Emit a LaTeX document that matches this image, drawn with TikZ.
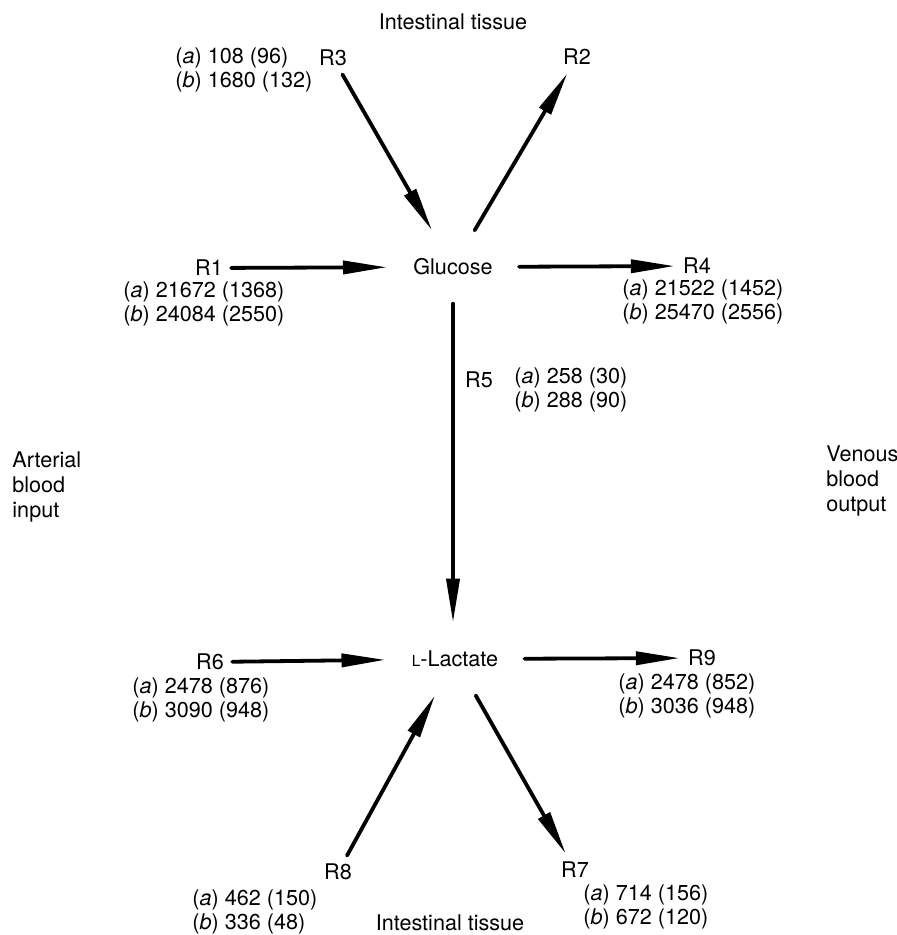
\documentclass[tikz,border=0pt]{standalone}
\usepackage{fontspec}
\setmainfont{TeX Gyre Heros}
\usetikzlibrary{arrows.meta}
\newcommand{\rates}[4]{(\textit{a}) #1 (#2)\\(\textit{b}) #3 (#4)}

\begin{document}
\begin{tikzpicture}
[x=0.5pt,y=-0.5pt,line cap=round,
% Styles
every node/.style={font=\fontsize{10.8}{12.3}\selectfont},
metabolite/.style={inner xsep=13pt,inner ysep=14pt},
reaction/.style={inner sep=4pt},
rate text/.style={anchor=west,align=left,inner sep=0pt},
flux/.style={line width=1.9pt,-{Triangle[length=22pt,width=6.5pt]}}]
\useasboundingbox (0,0) rectangle (897,935);
% Pools
\node[metabolite] (glc) at (453,267) {Glucose};
\node[metabolite] (lac) at (455,659) {{\fontsize{7.6}{9}\selectfont L}-Lactate};
% Reactions
\node[reaction] (r1) at (209,268) {R1};
\node[reaction] (r2) at (577,57) {R2};
\node[reaction] (r3) at (333,58) {R3};
\node[reaction] (r4) at (697,266) {R4};
\node[reaction] (r5) at (479,380) {R5};
\node[reaction] (r6) at (210,662) {R6};
\node[reaction] (r7) at (575,870) {R7};
\node[reaction] (r8) at (338,872) {R8};
\node[reaction] (r9) at (702,658) {R9};
% Rates
\node[rate text] (r1rate) at (123,304) {\rates{21672}{1368}{24084}{2550}};
\node[rate text] (r3rate) at (175,70) {\rates{108}{96}{1680}{132}};
\node[rate text] (r4rate) at (622,302) {\rates{21522}{1452}{25470}{2556}};
\node[rate text] (r5rate) at (514,390) {\rates{258}{30}{288}{90}};
\node[rate text] (r6rate) at (132,700) {\rates{2478}{876}{3090}{948}};
\node[rate text] (r7rate) at (583,907) {\rates{714}{156}{672}{120}};
\node[rate text] (r8rate) at (192,912) {\rates{462}{150}{336}{48}};
\node[rate text] (r9rate) at (618,696) {\rates{2478}{852}{3036}{948}};
% Compartments
\node (tissuetop) at (453,22) {Intestinal tissue};
\node (tissuebottom) at (450,923) {Intestinal tissue};
\node[rate text] (arterial) at (12,487) {Arterial\\blood\\input};
\node[rate text] (venous) at (826,481) {Venous\\blood\\output};
% Fluxes
\draw[flux] (r1) -- (glc);
\draw[flux] (r3) -- (glc);
\draw[flux] (glc) -- (r2);
\draw[flux] (glc) -- (r4);
\draw[flux] (glc.south) -- (lac.north-|glc.south);
\draw[flux] (r6) -- (lac);
\draw[flux] (r8) -- (lac);
\draw[flux] (lac) -- (r7);
\draw[flux] (lac) -- (r9);
\end{tikzpicture}
\end{document}
